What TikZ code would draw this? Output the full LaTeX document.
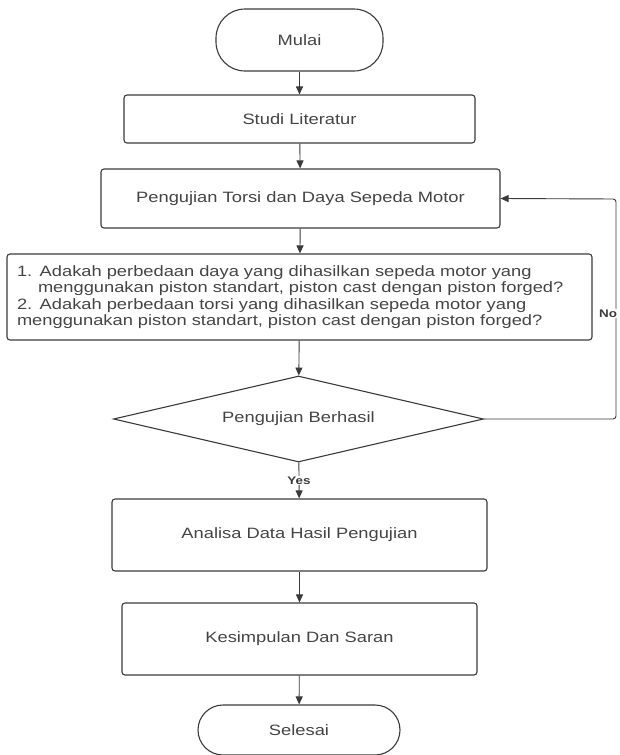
\documentclass[tikz,border=0pt]{standalone}
\usepackage{fontspec}
\newfontfamily\bagan{Liberation Sans}[FakeStretch=1.22]
\usepackage{tikz}
\usetikzlibrary{positioning,arrows.meta,shapes.geometric}
\definecolor{garis}{HTML}{3A3A3A}
\definecolor{tulisan}{HTML}{444444}

\begin{document}
\begin{tikzpicture}[x=1pt,y=-1pt,
    every node/.style={font=\bagan\fontsize{15}{16.5}\selectfont,text=tulisan},
    proses/.style={draw=garis,line width=1.1pt,rounded corners=3pt,minimum width=#1},
    terminal/.style={draw=garis,line width=1.1pt,rounded corners=29pt},
    keputusan/.style={diamond,draw=garis,line width=1.1pt,inner sep=0pt,aspect=4.3,minimum width=370pt,minimum height=86pt},
    panah/.style={-{Triangle[length=8pt,width=7pt]},garis,line width=0.9pt},
    label/.style={font=\bagan\bfseries\fontsize{11}{12}\selectfont,fill=white,inner sep=1pt,text=garis}]
        \useasboundingbox (0,0) rectangle (619,755);
        \node[terminal,minimum width=167pt,minimum height=62pt] (mulai) at (299.5,40) {Mulai};
        \node[proses=351pt,minimum height=48pt] (studi) at (299.5,119) {Studi Literatur};
        \node[proses=399pt,minimum height=59pt] (torsi) at (300.5,198.5) {Pengujian Torsi dan Daya Sepeda Motor};
        \node[proses=585pt,minimum height=86pt,text width=565pt,inner xsep=10pt,align=left] (rumusan) at (299.5,297)
          {1. Adakah perbedaan daya yang dihasilkan sepeda motor yang\\
           \hspace*{21pt}menggunakan piston standart, piston cast dengan piston forged?\\
           2. Adakah perbedaan torsi yang dihasilkan sepeda motor yang\\
           menggunakan piston standart, piston cast dengan piston forged?};
        \node[keputusan] (cek) at (298.5,419) {Pengujian Berhasil};
        \node[proses=375pt,minimum height=72pt] (analisa) at (299.5,535) {Analisa Data Hasil Pengujian};
        \node[proses=355pt,minimum height=72pt] (simpulan) at (299.5,639) {Kesimpulan Dan Saran};
        \node[terminal,rounded corners=25pt,minimum width=202pt,minimum height=50pt] (selesai) at (299,730) {Selesai};
        \coordinate (balik) at (616,199);
        \draw[panah] (mulai) -- (studi);
        \draw[panah] (studi) -- (torsi);
        \draw[panah] (torsi) -- (rumusan);
        \draw[panah] (rumusan) -- (cek);
        \draw[panah] (cek) -- node[label] {Yes} (analisa);
        \draw[panah] (analisa) -- (simpulan);
        \draw[panah] (simpulan) -- (selesai);
        \draw[panah,rounded corners=3pt] (cek.east) -- (cek.east -| balik) -- node[label,pos=0.48,anchor=east,xshift=2.5pt] {No} (balik) -- (torsi.east);
      \end{tikzpicture}
\end{document}
